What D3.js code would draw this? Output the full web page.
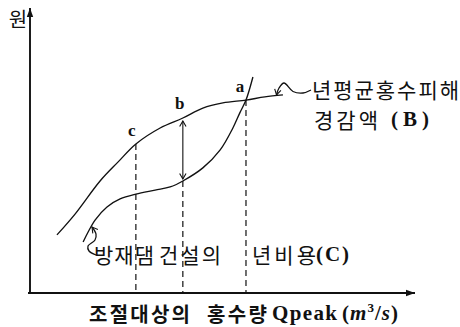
<!DOCTYPE html>
<html>
<head>
<meta charset="utf-8">
<script src="https://cdn.jsdelivr.net/npm/d3@7"></script>
<style>
  html, body { margin: 0; padding: 0; background: #fff; }
  svg { display: block; }
  .kr { font-family: "Noto Sans CJK KR", sans-serif; }
  .lat { font-family: "Liberation Serif", "DejaVu Serif", serif; font-weight: bold; }
</style>
</head>
<body>
<svg id="chart" width="460" height="327"></svg>
<script>
// Annual mean flood-damage reduction (B) vs. Qpeak
const benefitQ = [7.0, 11.7, 18.2, 22.9, 27.5, 33.8, 39.7, 44.9, 50.1, 56.1, 61.0, 65.7];
const benefitV = [20.4, 27.7, 39.3, 46.0, 52.3, 57.9, 61.4, 64.9, 66.7, 67.7, 68.8, 69.5];

// Annual cost of the flood-control dam (C) vs. Qpeak
const costQ = [13.8, 15.1, 16.9, 20.0, 23.4, 27.5, 32.5, 36.4, 39.7, 44.9, 49.4, 52.7, 54.5, 56.1, 57.9];
const costV = [17.9, 21.4, 25.6, 30.2, 33.0, 34.7, 36.1, 37.2, 39.3, 43.9, 50.2, 57.9, 63.2, 67.7, 75.8];

// Marked design flows c, b, a
const markLabels = ["c", "b", "a"];
const markQ = [27.5, 39.7, 56.1];
const markBenefit = [52.3, 61.4, 67.7];
const markCost = [34.7, 39.3, 67.7];

// Text
const yTitle = "원";
const xTitleParts = ["조절대상의", "홍수량", "Qpeak"];
const benefitLabel = ["년평균홍수피해", "경감액", "(B)"];
const costLabel = ["방재댐", "건설의", "년비용", "(C)"];

const svg = d3.select("#chart");
const ink = "#111";

const x = d3.scaleLinear().domain([0, 100]).range([30, 415]);
const y = d3.scaleLinear().domain([0, 100]).range([293, 8]);

const defs = svg.append("defs");
defs.append("marker")
  .attr("id", "solidHead").attr("viewBox", "-10 -4 11 8")
  .attr("refX", 0).attr("refY", 0)
  .attr("markerUnits", "userSpaceOnUse")
  .attr("markerWidth", 11).attr("markerHeight", 8)
  .attr("orient", "auto")
  .append("path").attr("d", "M-9,-3.2L0,0L-9,3.2Z").attr("fill", ink);
defs.append("marker")
  .attr("id", "openHead").attr("viewBox", "-7 -5 8 10")
  .attr("refX", 0).attr("refY", 0)
  .attr("markerUnits", "userSpaceOnUse")
  .attr("markerWidth", 8).attr("markerHeight", 10)
  .attr("orient", "auto-start-reverse")
  .append("path").attr("d", "M-5.5,-3.2L0,0L-5.5,3.2")
  .attr("fill", "none").attr("stroke", ink).attr("stroke-width", 1.1);

// Axes without ticks, ending in arrowheads
const xAxis = svg.append("g").attr("transform", `translate(0,${y(0)})`)
  .call(d3.axisBottom(x).tickValues([]).tickSizeOuter(0));
xAxis.select(".domain").attr("stroke", ink).attr("stroke-width", 1.9)
  .attr("d", `M${x(0) - 2},0H${x(100)}`)
  .attr("marker-end", "url(#solidHead)");
const yAxis = svg.append("g").attr("transform", `translate(${x(0)},0)`)
  .call(d3.axisLeft(y).tickValues([]).tickSizeOuter(0));
yAxis.select(".domain").attr("stroke", ink).attr("stroke-width", 1.9)
  .attr("d", `M0,${y(0) + 1}V${y(100)}`)
  .attr("marker-end", "url(#solidHead)");

// Dashed drops from the curves to the flow axis
const dropTop = [markBenefit[0], markCost[1], markBenefit[2]];
svg.append("g").selectAll("line").data(markQ).join("line")
  .attr("x1", d => x(d)).attr("x2", d => x(d))
  .attr("y1", (d, i) => y(dropTop[i])).attr("y2", y(0))
  .attr("stroke", ink).attr("stroke-width", 1.2)
  .attr("stroke-dasharray", "6,4");

// Curves
const line = d3.line().x(d => x(d[0])).y(d => y(d[1])).curve(d3.curveCatmullRom.alpha(0.5));
svg.append("path").datum(d3.zip(benefitQ, benefitV))
  .attr("d", line).attr("fill", "none").attr("stroke", ink).attr("stroke-width", 1.35);
svg.append("path").datum(d3.zip(costQ, costV))
  .attr("d", line).attr("fill", "none").attr("stroke", ink).attr("stroke-width", 1.35);

// Gap between B and C at b
svg.append("line")
  .attr("x1", x(markQ[1])).attr("x2", x(markQ[1]))
  .attr("y1", y(markBenefit[1]) + 3).attr("y2", y(markCost[1]) - 2)
  .attr("stroke", ink).attr("stroke-width", 1.1)
  .attr("marker-start", "url(#openHead)").attr("marker-end", "url(#openHead)");

// Point letters
const letterOffset = [[-4, -8], [-3, -9], [-6, -8]];
svg.append("g").selectAll("text").data(markLabels).join("text")
  .attr("class", "lat")
  .attr("x", (d, i) => x(markQ[i]) + letterOffset[i][0])
  .attr("y", (d, i) => y(markBenefit[i]) + letterOffset[i][1])
  .attr("text-anchor", "middle")
  .attr("font-size", 17).attr("fill", ink)
  .text(d => d);

// Leader squiggles to the curve labels
const leader = d3.line().curve(d3.curveCatmullRom.alpha(0.5));
svg.append("path")
  .attr("d", leader([[311, 90], [303, 93], [293, 91.5], [284, 83], [279, 88], [276.5, 95]]))
  .attr("fill", "none").attr("stroke", ink).attr("stroke-width", 1.3)
  .attr("marker-end", "url(#openHead)");
svg.append("path")
  .attr("d", leader([[96, 255], [89, 251], [88, 246], [95, 240], [96, 234], [92, 227]]))
  .attr("fill", "none").attr("stroke", ink).attr("stroke-width", 1.3)
  .attr("marker-end", "url(#openHead)");

// Helper: a text piece stretched to a set width
function piece(g, cls, str, x0, yc, width, size, bold) {
  const t = g.append("text").attr("class", cls)
    .attr("x", x0).attr("y", yc).attr("dominant-baseline", "central")
    .attr("font-size", size)
    .attr("textLength", width).attr("lengthAdjust", "spacing");
  if (bold) t.attr("font-weight", "bold");
  if (str !== null) t.text(str);
  return t;
}

// Y axis title
svg.append("text").attr("class", "kr")
  .attr("x", 18).attr("y", 18).attr("dominant-baseline", "central")
  .attr("text-anchor", "middle").attr("font-size", 20).attr("fill", ink)
  .text(yTitle);

// Label B
const bl = svg.append("g").attr("fill", ink);
piece(bl, "kr", benefitLabel[0], 312, 89, 147, 21, false);
piece(bl, "kr", benefitLabel[1], 314, 119, 64, 21, false);
piece(bl, "lat", benefitLabel[2], 391, 119, 38, 21, false);

// Label C
const cl = svg.append("g").attr("fill", ink);
piece(cl, "kr", costLabel[0], 94, 254, 60, 21, false);
piece(cl, "kr", costLabel[1], 159, 254, 62, 21, false);
piece(cl, "kr", costLabel[2], 252, 254, 64, 21, false);
piece(cl, "lat", costLabel[3], 316, 254, 33, 21, false);

// X axis title
const xt = svg.append("g").attr("fill", ink);
piece(xt, "kr", xTitleParts[0], 89, 313, 101, 20, true);
piece(xt, "kr", xTitleParts[1], 207, 313, 60, 20, true);
piece(xt, "lat", xTitleParts[2], 272, 313, 65, 21, false);
const unit = piece(xt, "lat", null, 342, 313, 56, 21, false);
unit.append("tspan").text("(");
unit.append("tspan").attr("font-style", "italic").text("m");
unit.append("tspan").attr("font-size", 13).attr("dy", -6).text("3");
unit.append("tspan").attr("dy", 6).text("/");
unit.append("tspan").attr("font-style", "italic").text("s");
unit.append("tspan").text(")");
</script>
</body>
</html>
